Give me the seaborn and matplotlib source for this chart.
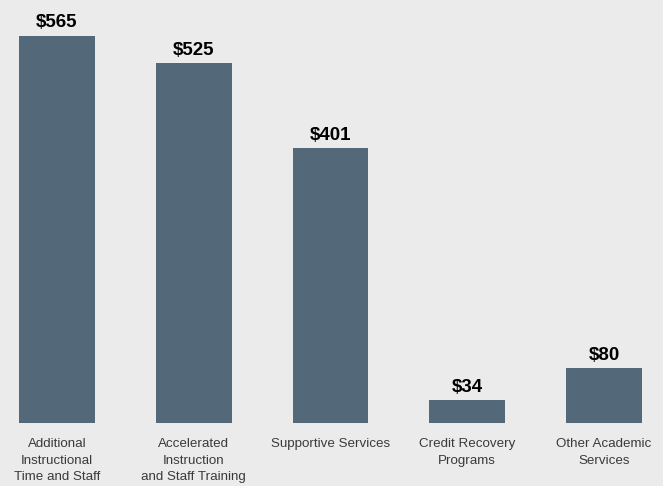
import matplotlib
matplotlib.use("Agg")
import matplotlib.pyplot as plt
import seaborn as sns
import pandas as pd

categories = [
    "Additional\nInstructional\nTime and Staff",
    "Accelerated\nInstruction\nand Staff Training",
    "Supportive Services",
    "Credit Recovery\nPrograms",
    "Other Academic\nServices",
]
values = [565, 525, 401, 34, 80]
value_labels = ["$565", "$525", "$401", "$34", "$80"]

sns.set_theme(style="white")
plt.rcParams["font.family"] = ["Liberation Sans", "DejaVu Sans"]

bg = "#ebebeb"
bar_color = "#536878"

fig = plt.figure(figsize=(6.63, 4.86), dpi=100, facecolor=bg)
ax = fig.add_axes([0, 63 / 486, 1, 423 / 486])
ax.set_facecolor(bg)

df = pd.DataFrame({"category": categories, "value": values})
sns.barplot(data=df, x="category", y="value", color=bar_color, width=0.555,
            saturation=1, linewidth=0, edgecolor=bar_color, ax=ax)

for i, (v, lab) in enumerate(zip(values, value_labels)):
    ax.annotate(lab, (i, v), xytext=(0, 3), textcoords="offset points",
                ha="center", va="bottom", fontsize=13.5, fontweight="bold",
                color="black")

ax.set_xlim(-57 / 136.75, 4 + 59 / 136.75)
ax.set_ylim(0, 617)
ax.set_xlabel("")
ax.set_ylabel("")
ax.set_yticks([])
for s in ax.spines.values():
    s.set_visible(False)
ax.tick_params(axis="x", length=0, pad=10.5, labelsize=9.6, labelcolor="#3a3a3a")
for t in ax.get_xticklabels():
    t.set_linespacing(1.55)
    t.set_va("top")

fig.savefig("out.png", dpi=100, facecolor=bg)
